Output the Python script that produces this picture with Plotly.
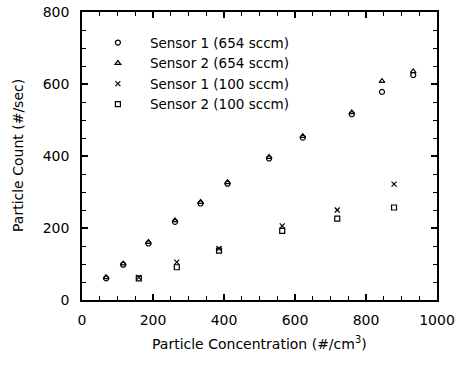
import plotly.graph_objects as go

# Sensor 1 (654 sccm) - circles
s1_654_x = [68, 116, 187, 262, 334, 410, 527, 622, 760, 845, 933]
s1_654_y = [60, 98, 157, 217, 268, 323, 393, 451, 516, 578, 625]
# Sensor 2 (654 sccm) - triangles
s2_654_x = [68, 116, 187, 262, 334, 410, 527, 622, 760, 845, 933]
s2_654_y = [63, 101, 161, 221, 272, 327, 397, 455, 521, 608, 635]
# Sensor 1 (100 sccm) - crosses
s1_100_x = [160, 267, 386, 564, 719, 879]
s1_100_y = [63, 105, 143, 206, 250, 322]
# Sensor 2 (100 sccm) - squares
s2_100_x = [160, 267, 386, 564, 719, 879]
s2_100_y = [60, 91, 137, 192, 226, 257]

names = ["Sensor 1 (654 sccm)", "Sensor 2 (654 sccm)",
         "Sensor 1 (100 sccm)", "Sensor 2 (100 sccm)"]
x_title = "Particle Concentration (#/cm<sup>3</sup>)"
y_title = "Particle Count (#/sec)"

FONT = "DejaVu Sans"
fig = go.Figure()
series = [
    (s1_654_x, s1_654_y, "circle-open", 5),
    (s2_654_x, s2_654_y, "triangle-up-open", 5),
    (s1_100_x, s1_100_y, "x-thin-open", 5),
    (s2_100_x, s2_100_y, "square-open", 5),
]
for (x, y, sym, sz), nm in zip(series, names):
    fig.add_trace(go.Scatter(
        x=x, y=y, mode="markers", name=nm,
        marker=dict(symbol=sym, size=sz, color="black",
                    line=dict(color="black", width=1.2)),
    ))

axis_common = dict(
    showgrid=False, zeroline=False, showline=True, linecolor="black",
    linewidth=1.5, mirror="ticks", ticks="inside", ticklen=6,
    tickwidth=1.5, tickcolor="black", automargin=False,
    ticklabeloverflow="allow",
    tickfont=dict(family=FONT, size=14, color="black"),
)
fig.update_xaxes(range=[0, 1000], dtick=200, tick0=0, ticklabelstandoff=6,
                 minor=dict(dtick=50, ticks="inside", ticklen=4,
                            tickcolor="black", tickwidth=1),
                 **axis_common)
fig.update_yaxes(range=[0, 800], dtick=200, tick0=0, ticklabelstandoff=8,
                 minor=dict(dtick=50, ticks="inside", ticklen=4,
                            tickcolor="black", tickwidth=1),
                 **axis_common)

fig.add_annotation(text=x_title, xref="paper", yref="paper", x=0.5, y=0,
                   yshift=-43, showarrow=False, xanchor="center", yanchor="middle",
                   font=dict(family=FONT, size=14, color="black"))
fig.add_annotation(text=y_title, xref="paper", yref="paper", x=0, y=0.5,
                   xshift=-64, showarrow=False, textangle=-90,
                   xanchor="center", yanchor="middle",
                   font=dict(family=FONT, size=14, color="black"))

fig.update_layout(
    width=460, height=365,
    margin=dict(l=82, r=23, t=12, b=65),
    paper_bgcolor="white", plot_bgcolor="white",
    font=dict(family=FONT, color="black"),
    showlegend=True,
    legend=dict(x=0.011, y=0.947, xanchor="left", yanchor="top",
                bgcolor="rgba(0,0,0,0)",
                font=dict(family=FONT, size=13.5, color="black"),
                itemwidth=54, tracegroupgap=0),
)

# remove the browser's default 8px page margin so the figure fills the window
fig.write_html("out.html",
               config={"displayModeBar": False},
               post_script="document.body.style.margin='0';"
                           "document.body.style.overflow='hidden';")
